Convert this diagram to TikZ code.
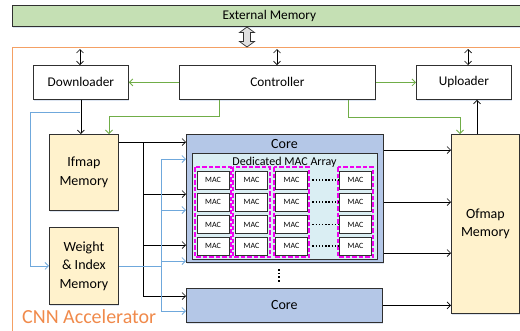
\documentclass[tikz,border=0pt]{standalone}
\usepackage{fontspec}
\setmainfont{Carlito}
\usetikzlibrary{arrows.meta,shadows}
\definecolor{extg}{HTML}{C5E0B4}
\definecolor{memy}{HTML}{FFF2CC}
\definecolor{coreb}{HTML}{B4C7E7}
\definecolor{macbg}{HTML}{DAEEF3}
\definecolor{orng}{HTML}{F4A064}
\definecolor{orngtxt}{HTML}{F08A4B}
\definecolor{grn}{HTML}{70AD47}
\definecolor{blu}{HTML}{6FA8DC}
\definecolor{magc}{RGB}{240,0,240}
\definecolor{edge}{HTML}{303030}
\definecolor{shd}{HTML}{9DB4D8}
\begin{document}
\begin{tikzpicture}[x=1pt,y=-1pt,
  tip/.style={-{Straight Barb[length=3.5pt,width=7pt]}},
  dtip/.style={{Straight Barb[length=3.5pt,width=7pt]}-{Straight Barb[length=3.5pt,width=7pt]}},
  shade box/.style={drop shadow={shadow xshift=1pt, shadow yshift=-1.5pt, fill=shd, opacity=0.35}},
  box/.style={draw=edge, line width=0.8pt, inner sep=0pt, anchor=north west, align=center,
    font=\fontsize{13.3}{16}\selectfont, shade box},
  membox/.style={box, fill=memy, font=\fontsize{14}{18.5}\selectfont},
  macbox/.style={draw=edge, line width=0.9pt, fill=white, minimum width=32pt, minimum height=18pt,
    inner sep=0pt, font=\fontsize{8}{9}\selectfont},
  colline/.style={draw=magc, line width=1.1pt, dash pattern=on 4.5pt off 2pt},
  kline/.style={draw=black, line width=0.7pt},
  gline/.style={draw=grn, line width=0.8pt},
  bline/.style={draw=blu, line width=0.8pt},
  lbl/.style={inner sep=0pt}
]
\useasboundingbox (0,0) rectangle (520,330);

% external memory
\node[box, fill=extg, minimum width=514pt, minimum height=21pt] (ext) at (12,5) {External Memory};
% accelerator frame
\draw[orng, line width=0.9pt] (12,340) -- (12,47) -- (530,47);
% block double arrow
\draw[edge, fill=black!12, line width=0.7pt] (247,27) -- (254.5,32.5) -- (250.5,32.5) -- (250.5,41.5) -- (254.5,41.5) -- (247,47) -- (239.5,41.5) -- (243.5,41.5) -- (243.5,32.5) -- (239.5,32.5) -- cycle;

% top row
\node[box, fill=white, minimum width=95pt, minimum height=34pt] (dl) at (33,65) {Downloader};
\node[box, fill=white, minimum width=196pt, minimum height=34pt] (ctrl) at (179,65) {Controller};
\node[box, fill=white, minimum width=95pt, minimum height=34pt] (ul) at (416,65) {Uploader};

\coordinate (pdl) at (80,49);
\coordinate (pctrl) at (277,49);
\coordinate (pul) at (468,49);
\draw[kline, dtip] (pdl) -- (pdl |- dl.north);
\draw[kline, dtip] (pctrl) -- (pctrl |- ctrl.north);
\draw[kline, dtip] (pul) -- (pul |- ul.north);

% memories
\node[membox, minimum width=69pt, minimum height=76pt] (ifm) at (49,134) {Ifmap\\Memory};
\node[membox, minimum width=69pt, minimum height=77pt] (wim) at (49,227) {Weight\\\& Index\\Memory};
\node[membox, minimum width=68pt, minimum height=179pt] (ofm) at (451,134) {Ofmap\\Memory};

% cores
\node[box, fill=coreb, minimum width=197pt, minimum height=128pt] (core1) at (186,134) {};
\node[lbl, font=\fontsize{14}{16}\selectfont] (core1lbl) at (284.5,144.5) {Core};
\node[box, fill=macbg, minimum width=185pt, minimum height=106pt] (arr) at (192,153) {};
\node[lbl, font=\fontsize{12}{14}\selectfont] (arrlbl) at (284.5,162) {Dedicated MAC Array};
\node[box, fill=coreb, minimum width=196pt, minimum height=34pt, font=\fontsize{14}{16}\selectfont] (core2) at (186,288) {Core};

% MAC columns
\foreach \xl/\xr in {195/231,233/270,274/309,338/373}{
  \draw[colline] (\xl,167) rectangle (\xr,257);
}
\foreach \cx/\cn in {213/a,251.5/b,291.5/c,355.5/e}{
  \foreach \ry/\rn in {180/1,202/2,224.5/3,246/4}{
    \node[macbox] (mac\cn\rn) at (\cx,\ry) {MAC};
  }
}
\foreach \ry/\rn in {180/1,202/2,224.5/3,246/4}{
  \draw[black, line width=1.2pt, dash pattern=on 1.3pt off 1.9pt] (macc\rn.east) ++(4.5,0) coordinate (d\rn) -- (d\rn -| mace\rn.west) ;
}
\coordinate (vd1) at (279,269);
\coordinate (vd2) at (279,283);
\draw[black, line width=1.2pt, dash pattern=on 1.5pt off 2.2pt] (vd1) -- (vd2);

% controller -> downloader / uploader
\draw[gline, tip] (ctrl.west) -- (dl.east);
\draw[gline, tip] (ctrl.east) -- (ul.west);
\coordinate (gLa) at (219,116);
\coordinate (gLb) at (109,116);
\draw[gline, tip] (ctrl.south -| gLa) -- (gLa) -- (gLb) -- (ifm.north -| gLb);
\coordinate (gRa) at (348,117);
\coordinate (gRb) at (460,117);
\draw[gline, tip] (ctrl.south -| gRa) -- (gRa) -- (gRb) -- (ofm.north -| gRb);

% downloader -> ifmap / weights
\draw[kline, tip] (dl.south) -- (ifm.north -| dl.south);
\coordinate (b0) at (80,112);
\coordinate (b1) at (30,112);
\draw[bline, tip] (b0) -- (b1) |- (wim.west);

% ifmap -> cores
\coordinate (kt) at (143,142);
\coordinate (kb) at (143,296);
\draw[kline, tip] (ifm.east |- kt) -- (core1.west |- kt);
\draw[kline] (kt) -- (kb);
\foreach \yy in {194,245}{
  \draw[kline, tip] (kt |- 0,\yy) -- (core1.west |- 0,\yy);
}
\draw[kline, tip] (kb) -- (core2.west |- kb);

% weights -> cores
\coordinate (bt) at (161,159);
\coordinate (bb) at (161,311);
\draw[bline] (bt) -- (bb);
\draw[bline] (wim.east) -- (wim.east -| bt);
\foreach \yy in {159,210,261}{
  \draw[bline, tip] (bt |- 0,\yy) -- (core1.west |- 0,\yy);
}
\draw[bline, tip] (bb) -- (core2.west |- bb);

% cores -> ofmap
\foreach \yy in {150,202,253}{
  \draw[kline, tip] (core1.east |- 0,\yy) -- (ofm.west |- 0,\yy);
}
\draw[kline, tip] (core2.east) -- (ofm.west |- core2.east);

% ofmap -> uploader
\coordinate (pu) at (477,0);
\draw[kline, tip] (ofm.north -| pu) -- (ul.south -| pu);

% label
\node[lbl, anchor=base west, text=orngtxt, font=\fontsize{20}{22}\selectfont] (cnn) at (22,323) {CNN Accelerator};
\end{tikzpicture}
\end{document}
